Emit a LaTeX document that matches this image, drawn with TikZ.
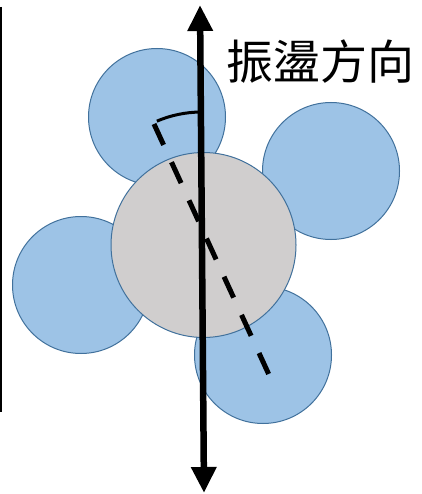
\documentclass[tikz,border=0pt]{standalone}
\usepackage{fontspec}
\newfontfamily\cjk{Noto Sans CJK TC}
\usetikzlibrary{arrows.meta,calc}
\definecolor{ballblue}{RGB}{157,195,230}
\definecolor{balledge}{RGB}{65,113,156}
\definecolor{centergray}{RGB}{208,206,206}
\begin{document}
\begin{tikzpicture}[x=1pt,y=-1pt,
  ball/.style={circle, draw=balledge, line width=1pt, fill=ballblue, minimum size=137pt, inner sep=0pt},
  core/.style={circle, draw=balledge, line width=1pt, fill=centergray, minimum size=185pt, inner sep=0pt},
  axisline/.style={line width=6.5pt, {Triangle[length=26pt,width=24pt]}-{Triangle[length=26pt,width=24pt]}},
  tiltline/.style={line width=5pt, dash pattern=on 23pt off 19pt},
  anglearc/.style={line width=3pt}]
\useasboundingbox (0,0) rectangle (421,494);
% left border line
\coordinate (lt) at (0.8,7);
\coordinate (lb) at (0.8,412);
\draw[line width=1.5pt] (lt) -- (lb);
% balls
\node[ball] (tl) at (157,117) {};
\node[ball] (tr) at (331,171) {};
\node[ball] (ml) at (81,285) {};
\node[ball] (br) at (263,355) {};
\node[core] (cen) at (203.5,245) {};
% tilted axis
\coordinate (d1) at (154,124);
\coordinate (d2) at (270,377);
\draw[tiltline] (d1) -- (d2);
% vibration axis
\coordinate (at) at (200,5);
\coordinate (ab) at (204,493);
\draw[axisline] (at) -- (ab);
% angle arc
\coordinate (c) at (201.8,227);
\draw[anglearc] ([shift={(90.5:115pt)}]c) arc[start angle=90.5, end angle=113, radius=115pt];
% label
\node[anchor=west, inner sep=0pt, font=\cjk\fontsize{47}{47}\selectfont] (lbl) at (226,62) {振盪方向};
\end{tikzpicture}
\end{document}
